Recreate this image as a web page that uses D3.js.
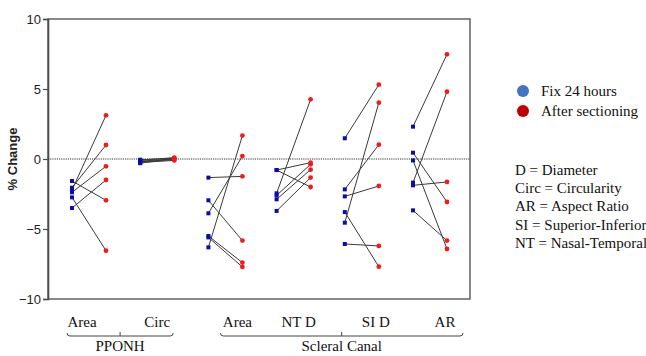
<!DOCTYPE html>
<html>
<head>
<meta charset="utf-8">
<script src="https://cdn.jsdelivr.net/npm/d3@7/dist/d3.min.js"></script>
<style>
  body { margin: 0; background: #fff; }
  svg { display: block; }
</style>
</head>
<body>
<div id="chart"></div>
<script>
// Chart data
const categories = ["ppArea", "ppCirc", "scArea", "scNTD", "scSID", "scAR"];
const categoryLabels = ["Area", "Circ", "Area", "NT D", "SI D", "AR"];
const yTicks = [10, 5, 0, -5, -10];

// paired values, one entry per eye: fix 24 hours -> after sectioning
const fixValues = [
    [-1.57, -2.05, -2.21, -2.38, -2.74, -3.5],
    [-0.05, -0.1, -0.15, -0.2, -0.25, -0.3],
    [-1.33, -2.95, -3.88, -5.5, -5.6, -6.31],
    [-0.79, -0.79, -2.45, -2.6, -2.88, -3.71],
    [1.48, -2.17, -2.67, -3.79, -4.55, -6.07],
    [2.31, 0.45, -0.1, -1.69, -1.88, -3.67]
];
const afterValues = [
    [-2.95, 1.0, 3.12, -0.52, -6.55, -1.5],
    [0.05, 0.1, 0.0, -0.05, -0.1, 0.05],
    [-1.24, -5.83, 0.21, -7.4, -7.71, 1.67],
    [-0.26, -2.0, 4.26, -0.38, -0.76, -1.33],
    [5.31, 1.02, -1.93, -7.69, 4.02, -6.21],
    [7.48, -3.07, -6.43, 4.81, -1.64, -5.83]
];

const groupNames = ["PPONH", "Scleral Canal"];
const groupMembers = [["ppArea", "ppCirc"], ["scArea", "scNTD", "scSID", "scAR"]];

const legendLabels = ["Fix 24 hours", "After sectioning"];
const definitions = [
    "D = Diameter",
    "Circ = Circularity",
    "AR = Aspect Ratio",
    "SI = Superior-Inferior",
    "NT = Nasal-Temporal"
];

// Colors
const fixColor = "#0C0CAA";
const afterColor = "#F21A1A";
const legendFixColor = "#4472C4";
const legendAfterColor = "#C00000";
const lineColor = "#3a3a3a";
const axisColor = "#4a4a4a";
const serif = "'Liberation Serif', 'Times New Roman', serif";

const width = 646, height = 356;
const plotLeft = 48, plotRight = 470, plotTop = 19, plotBottom = 299;

const svg = d3.select("#chart").append("svg")
    .attr("width", width)
    .attr("height", height);

const x = d3.scalePoint().domain(categories).range([89, 430]);
const pairX = d3.scalePoint().domain(["fix", "after"]).range([-17, 17]);
const y = d3.scaleLinear().domain([-10, 10]).range([plotBottom, plotTop]);

// Frame
svg.append("rect")
    .attr("x", plotLeft).attr("y", plotTop)
    .attr("width", plotRight - plotLeft).attr("height", plotBottom - plotTop)
    .attr("fill", "none")
    .attr("stroke", axisColor)
    .attr("stroke-width", 1.3);

// Y axis
const yAxis = d3.axisLeft(y).tickValues(yTicks).tickSize(5).tickPadding(2);
const yG = svg.append("g")
    .attr("transform", `translate(${plotLeft},0)`)
    .call(yAxis);
yG.select(".domain").attr("stroke", axisColor).attr("stroke-width", 1.6);
yG.selectAll(".tick line").attr("stroke", axisColor).attr("stroke-width", 1.2);
yG.selectAll(".tick text")
    .attr("fill", "#222")
    .attr("font-family", "Arial, 'Liberation Sans', sans-serif")
    .attr("font-size", "13px");

svg.append("text")
    .attr("transform", `translate(17,${y(0)}) rotate(-90)`)
    .attr("text-anchor", "middle")
    .attr("font-family", "Arial, 'Liberation Sans', sans-serif")
    .attr("font-weight", "bold")
    .attr("font-size", "13px")
    .attr("fill", "#222")
    .text("% Change");

// Zero reference line
svg.append("line")
    .attr("x1", plotLeft).attr("x2", plotRight)
    .attr("y1", y(0)).attr("y2", y(0))
    .attr("stroke", "#333")
    .attr("stroke-width", 1)
    .attr("stroke-dasharray", "1.2,1");

// Paired lines and points
categories.forEach((cat, ci) => {
    const x0 = x(cat) + pairX("fix");
    const x1 = x(cat) + pairX("after");
    fixValues[ci].forEach((v, i) => {
        svg.append("line")
            .attr("x1", x0).attr("y1", y(v))
            .attr("x2", x1).attr("y2", y(afterValues[ci][i]))
            .attr("stroke", lineColor)
            .attr("stroke-width", 1);
    });
    fixValues[ci].forEach(v => {
        svg.append("rect")
            .attr("x", x0 - 2).attr("y", y(v) - 2)
            .attr("width", 4).attr("height", 4)
            .attr("fill", fixColor);
    });
    afterValues[ci].forEach(v => {
        svg.append("circle")
            .attr("cx", x1).attr("cy", y(v))
            .attr("r", 2.4)
            .attr("fill", afterColor);
    });
});

// Category labels (hand placed in the original figure)
const labelShift = [-7, 0, 12, 5, 14, 15];
categories.forEach((cat, ci) => {
    svg.append("text")
        .attr("x", x(cat) + labelShift[ci])
        .attr("y", 327)
        .attr("text-anchor", "middle")
        .attr("font-family", serif)
        .attr("font-size", "15px")
        .attr("fill", "#111")
        .text(categoryLabels[ci]);
});

// Group braces
const braceExtent = [[-22, 16], [-5, 33]];
groupMembers.forEach((members, gi) => {
    const xa = x(members[0]) + braceExtent[gi][0];
    const xb = x(members[members.length - 1]) + braceExtent[gi][1];
    const xm = (xa + xb) / 2;
    const by = 336;
    svg.append("path")
        .attr("d", `M${xa},${by - 3} Q${xa},${by} ${xa + 3},${by} L${xb - 3},${by} Q${xb},${by} ${xb},${by - 3} M${xm},${by} L${xm},${by - 4}`)
        .attr("fill", "none")
        .attr("stroke", "#444")
        .attr("stroke-width", 1);
    svg.append("text")
        .attr("x", xm)
        .attr("y", 351)
        .attr("text-anchor", "middle")
        .attr("font-family", serif)
        .attr("font-size", "15px")
        .attr("fill", "#111")
        .text(groupNames[gi]);
});

// Legend
const legendColors = [legendFixColor, legendAfterColor];
legendLabels.forEach((lbl, i) => {
    const ly = 91 + i * 20;
    svg.append("circle")
        .attr("cx", 523).attr("cy", ly)
        .attr("r", 6)
        .attr("fill", legendColors[i]);
    svg.append("text")
        .attr("x", 541).attr("y", ly + 5)
        .attr("font-family", serif)
        .attr("font-size", "15px")
        .attr("fill", "#111")
        .text(lbl);
});

// Abbreviations
definitions.forEach((d, i) => {
    svg.append("text")
        .attr("x", 515).attr("y", 175 + i * 18.2)
        .attr("font-family", serif)
        .attr("font-size", "15px")
        .attr("fill", "#111")
        .text(d);
});
</script>
</body>
</html>
